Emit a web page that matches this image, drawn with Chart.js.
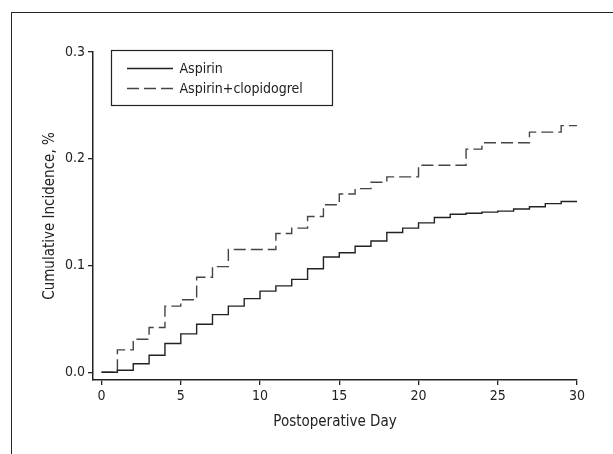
<!DOCTYPE html>
<html>
<head>
<meta charset="utf-8">
<script src="https://cdn.jsdelivr.net/npm/chart.js@4.4.1/dist/chart.umd.min.js"></script>
<style>
  html, body { margin: 0; padding: 0; background: #fff; overflow: hidden; }
  #frame { position: absolute; left: 11px; top: 12px; width: 700px; height: 600px; border: 1.6px solid #262626; }
  #wrap { position: absolute; left: 0; top: 0; width: 613px; height: 454px; }
</style>
</head>
<body>
<div id="frame"></div>
<div id="wrap"><canvas id="km"></canvas></div>
<script>
// postoperative days and cumulative incidence (value holds from that day to the next)
var days = [0, 1, 2, 3, 4, 5, 6, 7, 8, 9, 10, 11, 12, 13, 14, 15, 16, 17, 18, 19, 20, 21, 22, 23, 24, 25, 26, 27, 28, 29, 30];
var aspirin = [0, 0.002, 0.008, 0.016, 0.027, 0.036, 0.045, 0.054, 0.062, 0.069, 0.076, 0.081, 0.087, 0.097, 0.108,
  0.112, 0.118, 0.123, 0.131, 0.135, 0.140, 0.145, 0.148, 0.149, 0.150, 0.151, 0.153, 0.155, 0.158, 0.160, 0.160];
var aspirinClopidogrel = [0, 0.021, 0.031, 0.042, 0.062, 0.068, 0.089, 0.099, 0.115, 0.115, 0.115, 0.130, 0.135, 0.146, 0.157,
  0.167, 0.172, 0.178, 0.183, 0.183, 0.194, 0.194, 0.194, 0.209, 0.215, 0.215, 0.215, 0.225, 0.225, 0.231, 0.231];
var seriesNames = ['Aspirin', 'Aspirin+clopidogrel'];
var xTicks = [0, 5, 10, 15, 20, 25, 30];
var yTicks = [0, 0.1, 0.2, 0.3];

var FONT = "'Liberation Sans Narrow', 'DejaVu Sans Condensed', 'Roboto', sans-serif";
var INK = '#222';

function pts(vals) {
  return days.map(function (d, i) { return { x: d, y: vals[i] }; });
}

// legend box drawn inside the plot, like the original figure
var boxLegend = {
  id: 'boxLegend',
  afterDatasetsDraw: function (chart) {
    var ctx = chart.ctx;
    ctx.save();
    ctx.strokeStyle = INK;
    ctx.lineWidth = 1.2;
    ctx.strokeRect(111.5, 50.5, 221, 55);
    var rows = [68.5, 88.5];
    chart.data.datasets.forEach(function (ds, i) {
      ctx.beginPath();
      ctx.setLineDash(ds.borderDash || []);
      ctx.strokeStyle = ds.borderColor;
      ctx.lineWidth = ds.borderWidth;
      ctx.moveTo(127, rows[i]);
      ctx.lineTo(173, rows[i]);
      ctx.stroke();
      ctx.setLineDash([]);
      ctx.fillStyle = INK;
      ctx.font = '14px ' + FONT;
      ctx.textBaseline = 'middle';
      ctx.fillText(ds.label, 179.5, rows[i] + 0.5);
    });
    ctx.restore();
  }
};

new Chart(document.getElementById('km'), {
  type: 'line',
  data: {
    datasets: [{
      label: seriesNames[0],
      data: pts(aspirin),
      stepped: 'before',
      borderColor: '#222',
      borderWidth: 1.4,
      pointRadius: 0,
      fill: false
    }, {
      label: seriesNames[1],
      data: pts(aspirinClopidogrel),
      stepped: 'before',
      borderColor: '#444',
      borderWidth: 1.4,
      borderDash: [12, 5],
      pointRadius: 0,
      fill: false
    }]
  },
  options: {
    responsive: true,
    maintainAspectRatio: false,
    animation: false,
    layout: { padding: { top: 52, right: 36, left: 0, bottom: 0 } },
    plugins: { legend: { display: false }, tooltip: { enabled: false } },
    scales: {
      x: {
        type: 'linear',
        min: -0.54,
        max: 30,
        afterBuildTicks: function (s) { s.ticks = xTicks.map(function (v) { return { value: v }; }); },
        afterFit: function (s) { s.height = 74; },
        ticks: { color: INK, padding: 3, font: { family: FONT, size: 14 } },
        grid: { display: true, drawOnChartArea: false, drawTicks: true, tickLength: 5, color: INK, lineWidth: 1.3 },
        border: { display: true, color: INK, width: 1.5 },
        title: { display: true, text: 'Postoperative Day', color: INK, font: { family: FONT, size: 15 }, padding: { top: 0, bottom: 23 } }
      },
      y: {
        type: 'linear',
        min: -0.0072,
        max: 0.3,
        afterBuildTicks: function (s) { s.ticks = yTicks.map(function (v) { return { value: v }; }); },
        afterFit: function (s) { s.width = 93; },
        ticks: { color: INK, padding: 3, font: { family: FONT, size: 14 }, callback: function (v) { return v.toFixed(1); } },
        grid: { display: true, drawOnChartArea: false, drawTicks: true, tickLength: 5, color: INK, lineWidth: 1.3 },
        border: { display: true, color: INK, width: 1.5 },
        title: { display: true, text: 'Cumulative Incidence, %', color: INK, font: { family: FONT, size: 15 }, padding: { top: 41.5, bottom: 0 } }
      }
    }
  },
  plugins: [boxLegend]
});
</script>
</body>
</html>
